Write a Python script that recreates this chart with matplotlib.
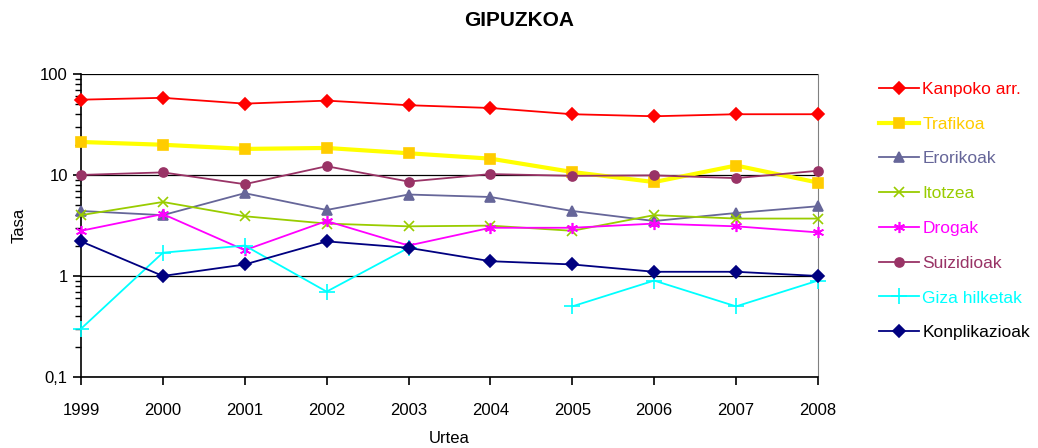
import numpy as np
import matplotlib
matplotlib.use("Agg")
import matplotlib.pyplot as plt

plt.rcParams["font.family"] = ["Liberation Sans", "DejaVu Sans"]

years = [1999, 2000, 2001, 2002, 2003, 2004, 2005, 2006, 2007, 2008]

kanpoko = [55.6, 58.0, 50.8, 54.4, 49.0, 46.0, 39.9, 38.1, 39.9, 39.9]
trafikoa = [21.2, 19.9, 18.1, 18.5, 16.4, 14.5, 10.7, 8.5, 12.4, 8.4]
erorikoak = [4.4, 4.0, 6.6, 4.5, 6.4, 6.05, 4.4, 3.5, 4.2, 4.9]
itotzea = [4.0, 5.4, 3.9, 3.3, 3.1, 3.15, 2.8, 4.0, 3.7, 3.7]
drogak = [2.8, 4.1, 1.8, 3.5, 2.0, 3.0, 3.0, 3.3, 3.1, 2.7]
suizidioak = [10.0, 10.6, 8.1, 12.2, 8.6, 10.2, 9.8, 9.9, 9.3, 11.0]
giza_hilketak = [0.3, 1.7, 2.0, 0.7, 1.9, np.nan, 0.5, 0.9, 0.5, 0.9]
konplikazioak = [2.2, 1.0, 1.3, 2.2, 1.9, 1.4, 1.3, 1.1, 1.1, 1.0]

ytick_vals = [0.1, 1, 10, 100]
ytick_labels = ["0,1", "1", "10", "100"]

# (label, data, line colour, marker, marker colour, line width, marker size, text colour)
series = [
    ("Kanpoko arr.", kanpoko, "#FF0000", "D", "#FF0000", 1.3, 6, "#FF0000"),
    ("Trafikoa", trafikoa, "#FFFF00", "s", "#FFCC00", 3.0, 7.5, "#FFCC00"),
    ("Erorikoak", erorikoak, "#666699", "^", "#666699", 1.3, 7, "#666699"),
    ("Itotzea", itotzea, "#99CC00", "x", "#99CC00", 1.3, 7, "#99CC00"),
    ("Drogak", drogak, "#FF00FF", (6, 2, 0), "#FF00FF", 1.3, 8, "#FF00FF"),
    ("Suizidioak", suizidioak, "#993366", "o", "#993366", 1.3, 6.5, "#993366"),
    ("Giza hilketak", giza_hilketak, "#00FFFF", "+", "#00FFFF", 1.3, 12, "#00FFFF"),
    ("Konplikazioak", konplikazioak, "#000080", "D", "#000080", 1.3, 6, "#000000"),
]

fig = plt.figure(figsize=(10.38, 4.48), dpi=100)
ax = fig.add_axes([0.078, 0.1585, 0.710, 0.6765])

for label, vals, lc, mk, mc, lw, ms, tc in series:
    ax.plot(years, vals, color=lc, lw=lw, marker=mk, markersize=ms,
            markerfacecolor=mc, markeredgecolor=mc, markeredgewidth=1.2,
            label=label, clip_on=False, zorder=3)

ax.set_yscale("log")
ax.set_ylim(0.1, 100)
ax.set_xlim(1999, 2008)
ax.set_yticks(ytick_vals)
ax.set_yticklabels(ytick_labels)
ax.set_xticks(years)
ax.set_xticklabels([str(y) for y in years])
ax.yaxis.set_minor_formatter(matplotlib.ticker.NullFormatter())

ax.grid(True, which="major", axis="y", color="black", lw=0.9)
ax.spines["top"].set_visible(False)
ax.spines["right"].set_color("#808080")
ax.spines["left"].set_linewidth(1.2)
ax.spines["bottom"].set_linewidth(1.2)
ax.tick_params(axis="both", which="major", labelsize=12, length=6, width=1.2)
ax.tick_params(axis="y", which="minor", length=4, width=1)
ax.tick_params(axis="x", pad=13)

ax.set_xlabel("Urtea", fontsize=12, labelpad=9)
ax.set_ylabel("Tasa", fontsize=12, labelpad=10)
fig.text(0.5, 0.955, "GIPUZKOA", ha="center", va="center",
         fontsize=15, fontweight="bold")

leg = ax.legend(loc="upper left", bbox_to_anchor=(0.84, 0.833),
                bbox_transform=fig.transFigure, frameon=False, fontsize=12.5,
                handlelength=2.3, handletextpad=0.2, labelspacing=1.13,
                borderaxespad=0)
for txt, s in zip(leg.get_texts(), series):
    txt.set_color(s[7])

fig.savefig("out.png", dpi=100)
